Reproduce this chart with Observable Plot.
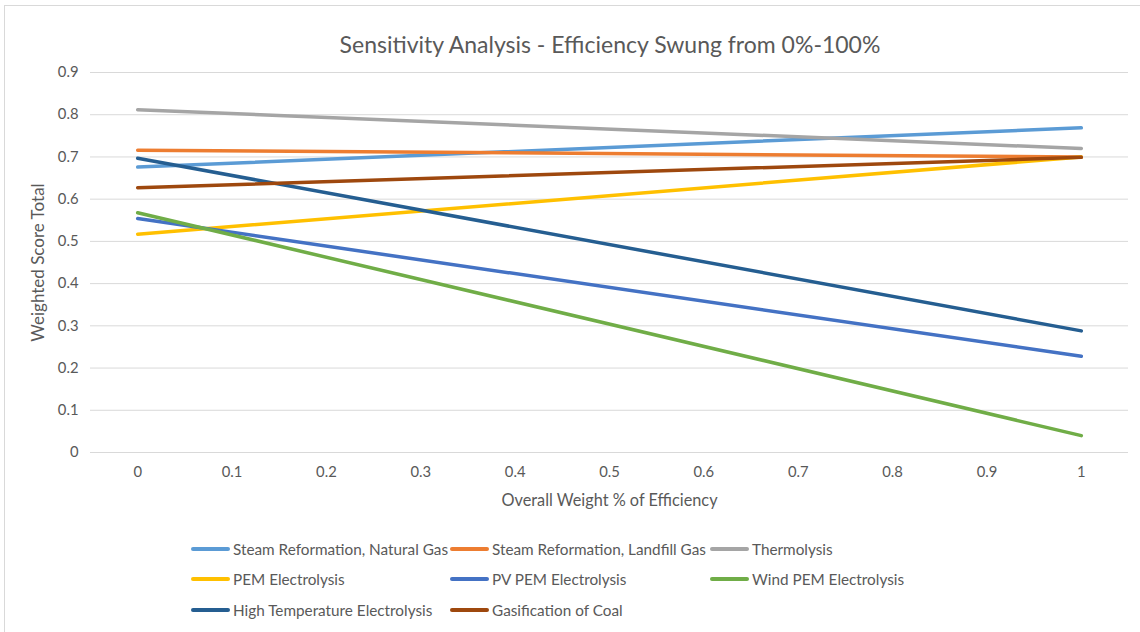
<!DOCTYPE html>
<html><head><meta charset="utf-8">
<script src="https://cdn.jsdelivr.net/npm/d3@7"></script>
<script src="https://cdn.jsdelivr.net/npm/@observablehq/plot@0.6"></script>
<style>
body{margin:0;background:#fff;font-family:Lato,"Open Sans",sans-serif;color:#595959}
#wrap{position:relative;width:1140px;height:632px;overflow:hidden;background:#fff}
#border{position:absolute;left:4px;top:5px;right:-10px;bottom:-10px;border-top:1px solid #d9d9d9;border-left:1px solid #d9d9d9}
#title{position:absolute;left:0;width:1220px;top:30px;text-align:center;font-size:23px;white-space:nowrap}
#chart{position:absolute;left:0;top:0}
.leg{position:absolute;display:flex;align-items:center;font-size:15.3px;white-space:nowrap}
.sw{width:39px;height:3.5px;border-radius:2px;margin-right:3px}
</style></head><body>
<div id="wrap"><div id="border"></div><div id="chart"></div><div id="title">Sensitivity Analysis - Efficiency Swung from 0%-100%</div></div>
<script>
const seriesNames = ["Steam Reformation, Natural Gas","Steam Reformation, Landfill Gas","Thermolysis","PEM Electrolysis","PV PEM Electrolysis","Wind PEM Electrolysis","High Temperature Electrolysis","Gasification of Coal"];
const seriesColors = ["#5B9BD5","#ED7D31","#A5A5A5","#FFC000","#4472C4","#70AD47","#255E91","#9E480E"];
const weights = [0, 1];
const startValues = [0.676, 0.716, 0.812, 0.517, 0.554, 0.568, 0.697, 0.627];
const endValues   = [0.769, 0.700, 0.720, 0.700, 0.228, 0.040, 0.288, 0.699];
const xTicks = [0, 0.1, 0.2, 0.3, 0.4, 0.5, 0.6, 0.7, 0.8, 0.9, 1];
const yTicks = [0, 0.1, 0.2, 0.3, 0.4, 0.5, 0.6, 0.7, 0.8, 0.9];

const rows = [];
seriesNames.forEach((s, i) => {
  rows.push({series: s, x: weights[0], y: startValues[i]});
  rows.push({series: s, x: weights[1], y: endValues[i]});
});

const chart = Plot.plot({
  width: 1140, height: 520,
  marginTop: 72, marginBottom: 68, marginLeft: 90, marginRight: 12,
  style: {fontFamily: "Lato, 'Open Sans', sans-serif", fontSize: "14.5px", color: "#595959", background: "transparent"},
  x: {domain: [-0.05, 1.05]},
  y: {domain: [0, 0.9]},
  color: {domain: seriesNames, range: seriesColors},
  marks: [
    Plot.gridY(yTicks, {stroke: "#d9d9d9", strokeOpacity: 1, strokeWidth: 1}),
    Plot.axisY(yTicks, {tickSize: 0, tickPadding: 12, tickFormat: d => String(d), label: null, fontSize: 14.8}),
    Plot.axisY(yTicks, {tickSize: 0, tickFormat: () => "", label: "Weighted Score Total", labelArrow: "none", labelAnchor: "center", labelOffset: 59, fontSize: 17}),
    Plot.axisX(xTicks, {tickSize: 0, tickPadding: 14, tickFormat: d => String(d), label: null, fontSize: 14.8}),
    Plot.axisX(xTicks, {tickSize: 0, tickFormat: () => "", label: "Overall Weight % of Efficiency", labelArrow: "none", labelAnchor: "center", labelOffset: 53, fontSize: 16.3}),
    Plot.lineY(rows, {x: "x", y: "y", z: "series", stroke: "series", strokeWidth: 3.5, strokeLinecap: "round"})
  ]
});
document.getElementById("chart").appendChild(chart);

const legCols = [191, 450, 710];
const legRows = [549, 579, 610];
seriesNames.forEach((s, i) => {
  const d = document.createElement("div");
  d.className = "leg";
  d.style.left = legCols[i % 3] + "px";
  d.style.top = (legRows[Math.floor(i / 3)] - 10) + "px";
  d.style.height = "20px";
  const sw = document.createElement("div");
  sw.className = "sw";
  sw.style.background = seriesColors[i];
  const t = document.createElement("span");
  t.textContent = s;
  d.appendChild(sw); d.appendChild(t);
  document.getElementById("wrap").appendChild(d);
});
</script>
</body></html>
